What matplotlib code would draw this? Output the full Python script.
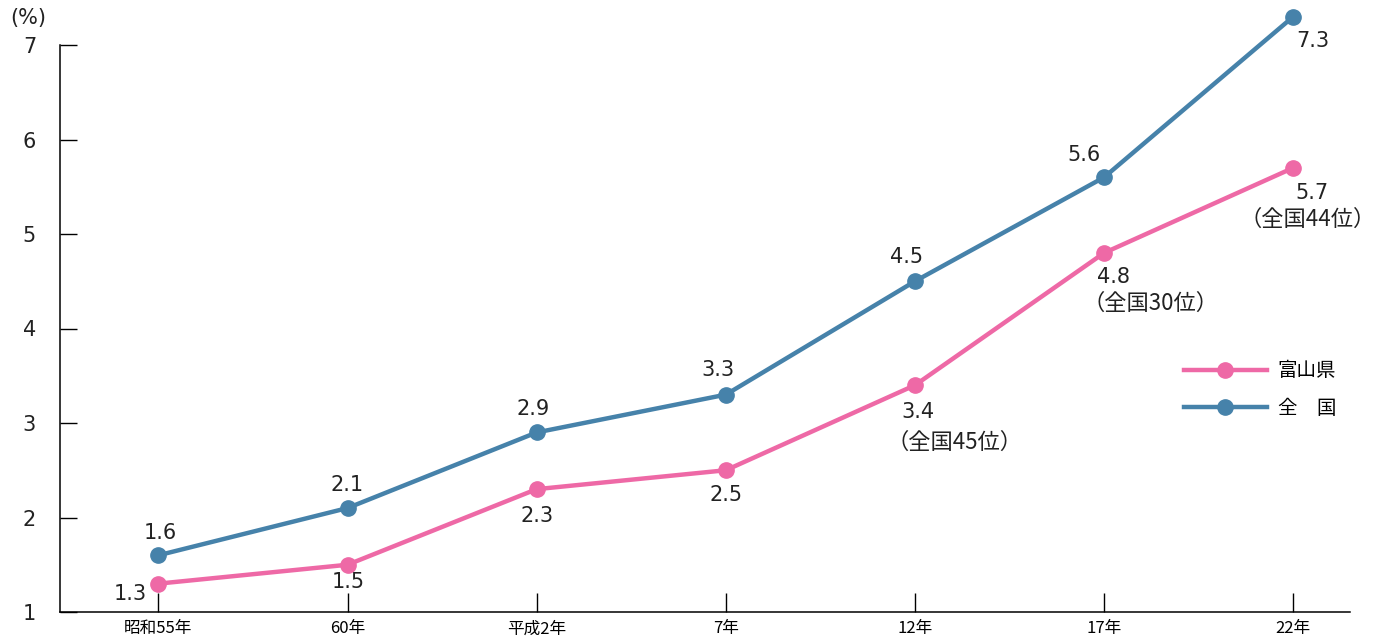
import matplotlib.pyplot as plt

plt.rcParams['font.family'] = ['DejaVu Sans', 'Noto Sans CJK JP']

# data
years = ['昭和55年', '60年', '平成2年', '7年', '12年', '17年', '22年']
toyama = [1.3, 1.5, 2.3, 2.5, 3.4, 4.8, 5.7]
national = [1.6, 2.1, 2.9, 3.3, 4.5, 5.6, 7.3]
toyama_rank = {4: '（全国45位）', 5: '（全国30位）', 6: '（全国44位）'}

pink = '#ee69a6'
blue = '#4682aa'
txt = '#222222'
cjk = ['Noto Sans CJK JP', 'DejaVu Sans']

fig = plt.figure(figsize=(13.78, 6.41), dpi=100)
ax = fig.add_axes([60 / 1378, 29 / 641, 1290 / 1378, 567 / 641])

x = range(len(years))
ax.plot(x, toyama, color=pink, lw=3.2, marker='o', ms=11, label='富山県', clip_on=False, zorder=3)
ax.plot(x, national, color=blue, lw=3.2, marker='o', ms=11, label='全\u3000国', clip_on=False, zorder=3)

ax.set_xlim(-0.52, 6.3)
ax.set_ylim(1, 7)
ax.set_yticks(range(1, 8))
ax.set_xticks(list(x))
ax.set_xticklabels(years, fontsize=12, family=cjk)
ax.tick_params(axis='y', direction='in', length=12, width=1, labelsize=15, pad=22)
ax.tick_params(axis='x', direction='in', length=14, width=1, pad=6)
for lab in ax.get_yticklabels():
    lab.set_horizontalalignment('center')
    lab.set_color(txt)
ax.spines['top'].set_visible(False)
ax.spines['right'].set_visible(False)
ax.spines['left'].set_linewidth(1.1)
ax.spines['bottom'].set_linewidth(1.1)

# value labels (offsets in pixels)
nat_off = [(2, 22), (0, 23), (-4, 23), (-8, 25), (-8, 24), (-20, 22), (20, -24)]
toy_off = [(-28, -10), (1, -17), (0, -27), (0, -25), (3, -27), (9, -24), (19, -25)]
rank_off = {4: (40, -57), 5: (46, -50), 6: (14, -52)}
for i, v in enumerate(national):
    ax.annotate(f'{v}', (i, v), xytext=nat_off[i], textcoords='offset pixels',
                ha='center', va='center', fontsize=15, color=txt, annotation_clip=False)
for i, v in enumerate(toyama):
    ax.annotate(f'{v}', (i, v), xytext=toy_off[i], textcoords='offset pixels',
                ha='center', va='center', fontsize=15, color=txt, annotation_clip=False)
    if i in toyama_rank:
        ax.annotate(toyama_rank[i], (i, v), xytext=rank_off[i], textcoords='offset pixels',
                    ha='center', va='center', fontsize=16, color=txt, family=cjk,
                    annotation_clip=False)

fig.text(28 / 1378, 1 - 18 / 641, '(%)', fontsize=15, ha='center', va='center', color=txt)

leg = ax.legend(loc='upper left', bbox_to_anchor=(1106 / 1290, 269 / 567), frameon=False,
                handlelength=4.3, labelspacing=0.86, handletextpad=0.55,
                prop={'family': cjk, 'size': 14})

fig.savefig('out.png', dpi=100)
